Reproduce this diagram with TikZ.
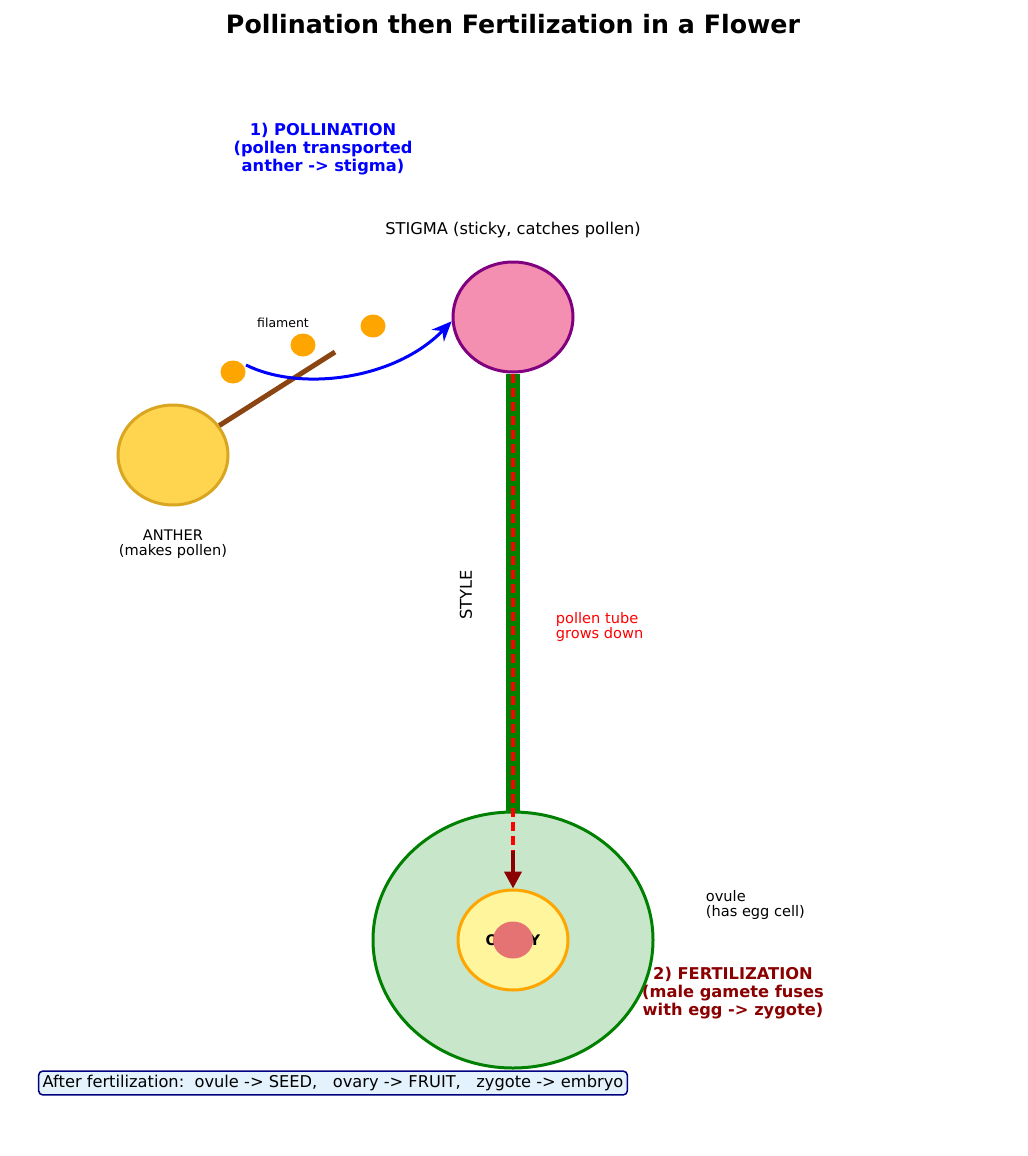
\documentclass[tikz,border=0pt]{standalone}
\usepackage{fontspec}
\setmainfont{DejaVu Sans}
\usetikzlibrary{arrows.meta,calc,positioning,shapes.geometric}
\definecolor{stigmapink}{HTML}{F48FB1}
\definecolor{stigmaedge}{HTML}{800080}
\definecolor{antherfill}{HTML}{FFD54F}
\definecolor{antheredge}{HTML}{DAA520}
\definecolor{stalk}{HTML}{8B4513}
\definecolor{pollen}{HTML}{FFA500}
\definecolor{styleg}{HTML}{008000}
\definecolor{ovaryfill}{HTML}{C8E6C9}
\definecolor{ovulefill}{HTML}{FFF59D}
\definecolor{eggred}{HTML}{E57373}
\definecolor{deepred}{HTML}{8B0000}
\definecolor{notefill}{HTML}{E3F2FD}
\definecolor{noteedge}{HTML}{000080}
\newcommand\pxu{0.72pt}
\tikzset{
  blob/.style={ellipse,inner sep=0pt,line width=3*\pxu},
  tiny/.style={font=\fontsize{9}{10.8}\selectfont},
  small/.style={font=\fontsize{10.5}{11.2}\selectfont},
  mid/.style={font=\fontsize{11.7}{12.8}\selectfont},
  midb/.style={font=\fontsize{11.7}{12.8}\selectfont\bfseries},
}

\begin{document}
\begin{tikzpicture}[x=0.72pt,y=-0.72pt]
\useasboundingbox (0,0) rectangle (1027,1156);
\node[font=\fontsize{18.2}{21}\selectfont\bfseries] (title) at (513,24) {Pollination then Fertilization in a Flower};
% flower parts
\node[blob,fill=stigmapink,draw=stigmaedge,minimum width=120*\pxu,minimum height=110*\pxu] (stigma) at (513,317) {};
\node[blob,fill=antherfill,draw=antheredge,minimum width=110*\pxu,minimum height=100*\pxu] (anther) at (173,455) {};
\node[blob,fill=ovaryfill,draw=styleg,minimum width=280*\pxu,minimum height=256*\pxu] (ovary) at (513,940) {};
\node[blob,fill=ovulefill,draw=pollen,minimum width=110*\pxu,minimum height=100*\pxu] (ovule) at (513,940) {};
\node[font=\fontsize{10.5}{12}\selectfont\bfseries] (ovarytxt) at (513,940) {OVARY};
\node[ellipse,inner sep=0pt,fill=eggred,minimum width=40*\pxu,minimum height=37*\pxu] (egg) at (513,940) {};
\foreach \x/\y [count=\i] in {233/372,303/345,373/326}
  \node[ellipse,inner sep=0pt,fill=pollen,minimum width=25*\pxu,minimum height=23*\pxu] (pollen\i) at (\x,\y) {};
\coordinate (filtip) at (335,352);
\coordinate (flight) at (246,365);
\coordinate (tubeend) at (513,853);
\coordinate (tubehead) at (513,851);
% style, filament, pollen tube
\draw[styleg,line width=14*\pxu] (stigma.south) -- (ovary.north);
\draw[stalk,line width=5*\pxu] (anther) -- (filtip);
\draw[red,line width=3.2*\pxu,dash pattern=on 9*\pxu off 5*\pxu] (stigma.south) -- (tubeend);
\draw[deepred,line width=4*\pxu,-{Stealth[length=17*\pxu,width=17*\pxu,inset=0pt]}] (tubehead) -- (ovule.north);
\draw[blue,line width=3*\pxu,-{Stealth[length=20*\pxu,width=17*\pxu]}] (flight) .. controls (300,392) and (395,380) .. (stigma.184);
% labels
\node[midb,text=blue,align=center] (polltxt) at (323,149) {1) POLLINATION\\(pollen transported\\anther -> stigma)};
\node[mid] (stigmatxt) at (513,230) {STIGMA (sticky, catches pollen)};
\node[tiny] (filtxt) at (283,323) {filament};
\node[small,align=center] (anthertxt) at (173,544) {ANTHER\\(makes pollen)};
\node[mid,rotate=90] (styletxt) at (466,595) {STYLE};
\node[small,text=red,align=left,anchor=west] (tubetxt) at (551,627) {pollen tube\\grows down};
\node[small,align=left,anchor=west] (ovuletxt) at (701,905) {ovule\\(has egg cell)};
\node[midb,text=deepred,align=center] (fertxt) at (733,993) {2) FERTILIZATION\\(male gamete fuses\\with egg -> zygote)};
\node[mid,fill=notefill,draw=noteedge,line width=1.5*\pxu,rounded corners=4*\pxu,inner xsep=4*\pxu,inner ysep=4*\pxu] (note) at (333,1083) {After fertilization:\ \ ovule -> SEED,\ \ \ ovary -> FRUIT,\ \ \ zygote -> embryo};
\end{tikzpicture}
\end{document}
